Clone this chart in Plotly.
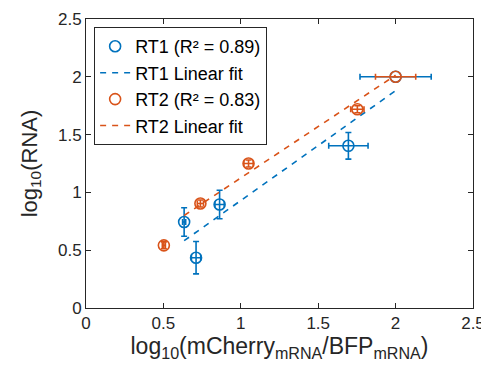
import plotly.graph_objects as go

# ---- data ----
rt1_x = [0.634, 0.711, 0.863, 1.695, 2.0]
rt1_y = [0.744, 0.435, 0.895, 1.403, 2.0]
rt1_yerr = [0.123, 0.14, 0.123, 0.115, 0.0]
rt1_xerr = [0.01, 0.03, 0.03, 0.127, 0.23]

rt2_x = [0.503, 0.739, 1.05, 1.753, 2.0]
rt2_y = [0.542, 0.904, 1.25, 1.719, 2.0]
rt2_yerr = [0.03, 0.03, 0.03, 0.03, 0.0]
rt2_xerr = [0.01, 0.02, 0.03, 0.043, 0.13]

fit1_x = [0.634, 2.0]
fit1_y = [0.582, 1.880]
fit2_x = [0.634, 2.0]
fit2_y = [0.800, 2.014]

tick_vals = [0, 0.5, 1, 1.5, 2, 2.5]
tick_text = ["0", "0.5", "1", "1.5", "2", "2.5"]

labels = ["RT1 (R² = 0.89)", "RT1 Linear fit",
          "RT2 (R² = 0.83)", "RT2 Linear fit"]

blue = "#0072BD"
orange = "#D95319"
axcol = "#262626"
font = "Liberation Sans, Arial, Helvetica, sans-serif"

fig = go.Figure()

fig.add_trace(go.Scatter(
    x=rt1_x, y=rt1_y, mode="markers", name=labels[0],
    marker=dict(symbol="circle-open", size=11, color=blue, line=dict(width=1.6, color=blue)),
    error_y=dict(type="data", array=rt1_yerr, color=blue, thickness=1.6, width=3),
    error_x=dict(type="data", array=rt1_xerr, color=blue, thickness=1.6, width=3),
))
fig.add_trace(go.Scatter(
    x=fit1_x, y=fit1_y, mode="lines", name=labels[1],
    line=dict(color=blue, width=1.6, dash="6px,6px"),
))
fig.add_trace(go.Scatter(
    x=rt2_x, y=rt2_y, mode="markers", name=labels[2],
    marker=dict(symbol="circle-open", size=11, color=orange, line=dict(width=1.6, color=orange)),
    error_y=dict(type="data", array=rt2_yerr, color=orange, thickness=1.6, width=3),
    error_x=dict(type="data", array=rt2_xerr, color=orange, thickness=1.6, width=3),
))
fig.add_trace(go.Scatter(
    x=fit2_x, y=fit2_y, mode="lines", name=labels[3],
    line=dict(color=orange, width=1.6, dash="6px,6px"),
))

axis_common = dict(
    showline=True, linecolor=axcol, linewidth=1, mirror="ticks",
    ticks="inside", ticklen=5, tickcolor=axcol, tickwidth=1,
    showgrid=False, zeroline=False, automargin=False,
    tickfont=dict(family=font, size=17, color=axcol),
)

# page has an 8px body margin, so the figure is 8px smaller than the window
fig.update_layout(
    width=481, height=363,
    margin=dict(l=78, r=16, t=11, b=63),
    paper_bgcolor="white", plot_bgcolor="white",
    font=dict(family=font, color=axcol),
    xaxis=dict(range=[0, 2.5], tickvals=tick_vals, ticktext=tick_text,
               title=dict(text="log<sub>10</sub>(mCherry<sub>mRNA</sub>/BFP<sub>mRNA</sub>)",
                          font=dict(family=font, size=23, color=axcol), standoff=1),
               **axis_common),
    yaxis=dict(range=[0, 2.5], tickvals=tick_vals, ticktext=tick_text,
               title=dict(text="log<sub>10</sub>(RNA)",
                          font=dict(family=font, size=22, color=axcol), standoff=14),
               **axis_common),
    legend=dict(x=0.021, y=0.972, xanchor="left", yanchor="top",
                bgcolor="white", bordercolor=axcol, borderwidth=1,
                font=dict(family=font, size=18, color="black"),
                itemwidth=30, tracegroupgap=0),
    showlegend=True,
)

fig.write_html("out.html")
